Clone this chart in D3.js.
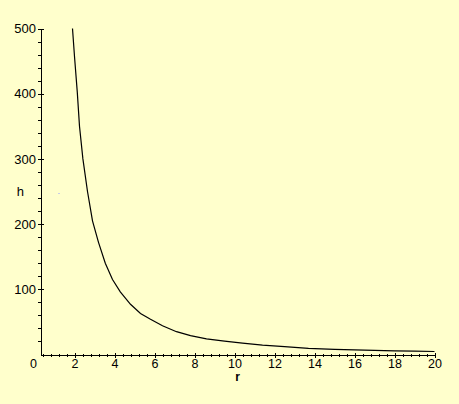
<!DOCTYPE html>
<html>
<head>
<meta charset="utf-8">
<script src="https://cdn.jsdelivr.net/npm/d3@7"></script>
<style>
  html, body { margin: 0; padding: 0; background: #ffffcc; }
  svg { display: block; }
  text { font-family: "Liberation Sans", Arial, sans-serif; fill: #000; }
</style>
</head>
<body>
<svg id="chart" width="459" height="404"></svg>
<script>
// ---- data ----
const rValues = [1.9, 2.0, 2.14, 2.25, 2.42, 2.65, 2.9, 3.2, 3.54, 3.9, 4.29, 4.8, 5.3, 5.8, 6.4, 7.1, 7.8, 8.6, 9.5, 10.4, 11.4, 12.5, 13.7, 15.0, 16.5, 18.0, 19.0, 20.0];
const hValues = [500, 457, 402, 350, 300, 250, 205, 172, 140, 115, 96, 77, 63, 54, 44, 35, 29, 24, 20.5, 17.5, 14.5, 12, 9.5, 7.8, 6.6, 5.6, 5.1, 4.6];
const xTickLabels = [0, 2, 4, 6, 8, 10, 12, 14, 16, 18, 20];
const yTickLabels = [100, 200, 300, 400, 500];
const xLabel = "r";
const yLabel = "h";

const svg = d3.select("#chart");
svg.append("rect").attr("width", 459).attr("height", 404).attr("fill", "#ffffcc");

const rStart = 0.3;
const x = d3.scaleLinear().domain([0, 20]).range([34.5, 434.5]);
const y = d3.scaleLinear().domain([0, 500]).range([354.5, 28.5]);
const xa = x.copy().domain([rStart, 20]).range([x(rStart), x(20)]);

// minor ticks
const xMinor = d3.range(1, 50).map(i => +(0.4 * i).toFixed(2)).filter(v => v > rStart && Math.abs(v / 2 - Math.round(v / 2)) > 1e-6);
const yMinor = d3.range(1, 25).map(i => i * 20).filter(v => v % 100 !== 0);

// X axis
const gx = svg.append("g").attr("transform", `translate(0,${y(0)})`);
gx.call(d3.axisBottom(xa).tickValues(xTickLabels).tickSizeOuter(0).tickSizeInner(3).tickPadding(2).tickFormat(d3.format("d")));
gx.select(".domain").attr("stroke", "#000").attr("shape-rendering", "crispEdges");
gx.selectAll(".tick line").attr("y1", -2).attr("y2", 3).attr("stroke", "#000").attr("shape-rendering", "crispEdges");
gx.selectAll(".tick").filter(d => d === 0).select("line").remove();
gx.selectAll(".tick text").attr("font-size", 12.5).attr("y", 5).attr("dy", "0.71em")
  .attr("font-family", "'Liberation Sans', Arial, sans-serif").attr("fill", "#000");
gx.selectAll(".tick").filter(d => d === 0).select("text").attr("dx", -1.5);

const gxm = svg.append("g").attr("transform", `translate(0,${y(0)})`);
gxm.call(d3.axisBottom(xa).tickValues(xMinor).tickSizeOuter(0).tickSize(2).tickFormat(""));
gxm.select(".domain").remove();
gxm.selectAll(".tick line").attr("y1", -1).attr("y2", 2).attr("stroke", "#000").attr("shape-rendering", "crispEdges");

// Y axis
const gy = svg.append("g").attr("transform", `translate(${xa(rStart)},0)`);
gy.call(d3.axisLeft(y).tickValues(yTickLabels).tickSizeOuter(0).tickSizeInner(3).tickPadding(2).tickFormat(d3.format("d")));
gy.select(".domain").attr("stroke", "#000").attr("shape-rendering", "crispEdges");
gy.selectAll(".tick line").attr("x1", 3).attr("x2", -3).attr("stroke", "#000").attr("shape-rendering", "crispEdges");
gy.selectAll(".tick text").attr("font-size", 13).attr("x", -4.5)
  .attr("font-family", "'Liberation Sans', Arial, sans-serif").attr("fill", "#000");

const gym = svg.append("g").attr("transform", `translate(${xa(rStart)},0)`);
gym.call(d3.axisLeft(y).tickValues(yMinor).tickSizeOuter(0).tickSize(3).tickFormat(""));
gym.select(".domain").remove();
gym.selectAll(".tick line").attr("stroke", "#000").attr("shape-rendering", "crispEdges");

// axis labels
svg.append("text").attr("x", 20.3).attr("y", 195.7).attr("text-anchor", "middle")
  .attr("font-size", 13).text(yLabel);
svg.append("text").attr("x", (xa(rStart) + x(20)) / 2).attr("y", 381).attr("text-anchor", "middle")
  .attr("font-size", 12).attr("font-weight", "bold").text(xLabel);

// stray dot in reference
svg.append("rect").attr("x", 58).attr("y", 193).attr("width", 2).attr("height", 1).attr("fill", "#c8cce8");

// curve
const pts = rValues.map((r, i) => [r, hValues[i]]);
svg.append("path")
  .datum(pts)
  .attr("fill", "none")
  .attr("stroke", "#000")
  .attr("stroke-width", 1.2)
  .attr("d", d3.line().x(d => x(d[0])).y(d => y(d[1])).curve(d3.curveLinear));
</script>
</body>
</html>
